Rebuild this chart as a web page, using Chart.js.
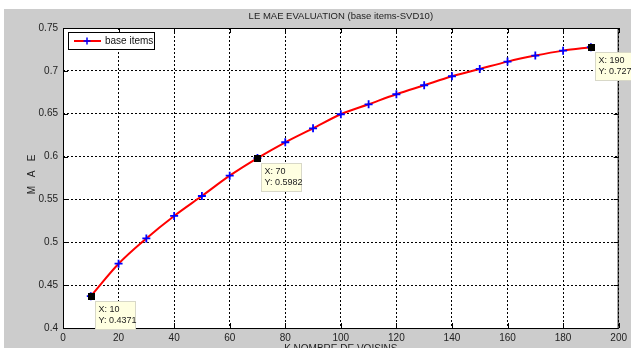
<!DOCTYPE html>
<html>
<head>
<meta charset="utf-8">
<script src="https://cdn.jsdelivr.net/npm/chart.js@4.4.1/dist/chart.umd.min.js"></script>
<style>
  html, body { margin: 0; padding: 0; background: #fff; }
  #wrap { width: 631px; height: 348px; position: relative; }
</style>
</head>
<body>
<div id="wrap"><canvas id="mae-chart" width="631" height="348"></canvas></div>
<script>
// Data
const neighbours = [10, 20, 30, 40, 50, 60, 70, 80, 90, 100, 110, 120, 130, 140, 150, 160, 170, 180, 190];
const maeValues = [0.4371, 0.475, 0.5045, 0.5307, 0.554, 0.5777, 0.5982, 0.6167, 0.633, 0.6494,
                   0.661, 0.6727, 0.6832, 0.6937, 0.7022, 0.7108, 0.7178, 0.7236, 0.7276];
const xTicks = [0, 20, 40, 60, 80, 100, 120, 140, 160, 180, 200];
const yTicks = [0.4, 0.45, 0.5, 0.55, 0.6, 0.65, 0.7, 0.75];
const dataTips = [10, 70, 190]; // points with matlab-style data cursors

const chartTitle = "LE MAE EVALUATION (base items-SVD10)";
const xTitle = "K NOMBRE DE VOISINS";
const yTitle = ["M", "A", "E"];
const seriesName = "base items";

const FONT = "Arial, 'Liberation Sans', sans-serif";

// Figure background + texts + frame + legend + data tips
const matlabLook = {
  id: "matlabLook",
  beforeDraw(chart) {
    const ctx = chart.ctx;
    ctx.save();
    ctx.fillStyle = "#ffffff";
    ctx.fillRect(0, 0, chart.width, chart.height);
    ctx.fillStyle = "#cccccc";
    ctx.fillRect(4, 9, chart.width - 4, chart.height - 9);
    const a = chart.chartArea;
    ctx.fillStyle = "#ffffff";
    ctx.fillRect(a.left, a.top, a.right - a.left, a.bottom - a.top);
    ctx.restore();
  },
  afterDatasetsDraw(chart) {
    const ctx = chart.ctx;
    const a = chart.chartArea;
    const xs = chart.scales.x, ys = chart.scales.y;
    ctx.save();

    // frame
    ctx.strokeStyle = "#000";
    ctx.lineWidth = 1;
    ctx.strokeRect(a.left + 0.5, a.top + 0.5, a.right - a.left - 1, a.bottom - a.top);

    // inward tick marks
    ctx.beginPath();
    xTicks.forEach((t) => {
      const px = Math.round(xs.getPixelForValue(t)) + 0.5;
      ctx.moveTo(px, a.bottom); ctx.lineTo(px, a.bottom - 5);
      ctx.moveTo(px, a.top); ctx.lineTo(px, a.top + 5);
    });
    yTicks.forEach((t) => {
      const py = Math.round(ys.getPixelForValue(t)) + 0.5;
      ctx.moveTo(a.left, py); ctx.lineTo(a.left + 5, py);
      ctx.moveTo(a.right, py); ctx.lineTo(a.right - 5, py);
    });
    ctx.stroke();

    // titles
    ctx.fillStyle = "#222";
    ctx.font = "9.5px " + FONT;
    ctx.textAlign = "center";
    ctx.textBaseline = "middle";
    ctx.fillText(chartTitle, (a.left + a.right) / 2, 16);
    ctx.font = "10px " + FONT;
    ctx.textBaseline = "top";
    ctx.fillText(xTitle, (a.left + a.right) / 2, 344);
    ctx.save();
    ctx.translate(32, (a.top + a.bottom) / 2 - 4);
    ctx.rotate(-Math.PI / 2);
    ctx.textBaseline = "middle";
    ctx.font = "10px " + FONT;
    yTitle.forEach((ch, i) => ctx.fillText(ch, (i - 1) * 16, 0));
    ctx.restore();

    // legend
    ctx.fillStyle = "#fff";
    ctx.fillRect(68.5, 32.5, 86, 17);
    ctx.strokeStyle = "#000";
    ctx.strokeRect(68.5, 32.5, 86, 17);
    ctx.strokeStyle = "#ff0000";
    ctx.lineWidth = 2;
    ctx.beginPath();
    ctx.moveTo(74, 41); ctx.lineTo(101, 41);
    ctx.stroke();
    ctx.strokeStyle = "#0000ff";
    ctx.lineWidth = 1.5;
    ctx.beginPath();
    ctx.moveTo(83.5, 41); ctx.lineTo(90.5, 41);
    ctx.moveTo(87, 37.5); ctx.lineTo(87, 44.5);
    ctx.stroke();
    ctx.fillStyle = "#111";
    ctx.font = "10px " + FONT;
    ctx.textAlign = "left";
    ctx.textBaseline = "middle";
    ctx.fillText(seriesName, 105, 41.5);

    // data tips
    dataTips.forEach((k) => {
      const i = neighbours.indexOf(k);
      const px = xs.getPixelForValue(neighbours[i]);
      const py = ys.getPixelForValue(maeValues[i]);
      ctx.fillStyle = "#000";
      ctx.fillRect(Math.round(px) - 3, Math.round(py) - 3, 7, 7);
      const bx = Math.round(px) + 4.5, by = Math.round(py) + 5.5;
      ctx.fillStyle = "#ffffe1";
      ctx.fillRect(bx, by, 40, 28);
      ctx.strokeStyle = "#d8d8c8";
      ctx.lineWidth = 1;
      ctx.strokeRect(bx, by, 40, 28);
      ctx.fillStyle = "#222";
      ctx.font = "9px " + FONT;
      ctx.textAlign = "left";
      ctx.textBaseline = "middle";
      ctx.fillText("X: " + neighbours[i], bx + 3, by + 8.5);
      ctx.fillText("Y: " + maeValues[i], bx + 3, by + 19.5);
    });
    ctx.restore();
  }
};

const ctx = document.getElementById("mae-chart").getContext("2d");
new Chart(ctx, {
  type: "line",
  data: {
    datasets: [
      {
        label: seriesName,
        data: neighbours.map((n, i) => ({ x: n, y: maeValues[i] })),
        borderColor: "#ff0000",
        borderWidth: 2,
        cubicInterpolationMode: "monotone",
        pointStyle: "cross",
        pointRadius: 4,
        pointBorderColor: "#0000ff",
        pointBorderWidth: 1.8,
        fill: false,
      },
    ],
  },
  options: {
    responsive: false,
    animation: false,
    layout: { padding: { left: 4, top: 28, right: 10, bottom: 0 } },
    plugins: { legend: { display: false }, tooltip: { enabled: false } },
    scales: {
      x: {
        type: "linear",
        min: 0,
        max: 200,
        afterFit: (s) => { s.height = 20; },
        afterBuildTicks: (s) => { s.ticks = xTicks.map((v) => ({ value: v })); },
        ticks: { color: "#222", padding: 4, maxRotation: 0, font: { family: FONT, size: 10 } },
        grid: { color: "#000", lineWidth: 1, drawTicks: false },
        border: { display: false, dash: [2, 2] },
      },
      y: {
        type: "linear",
        min: 0.4,
        max: 0.75,
        afterFit: (s) => { s.width = 59; },
        afterBuildTicks: (s) => { s.ticks = yTicks.map((v) => ({ value: v })); },
        ticks: {
          color: "#222",
          padding: 5,
          font: { family: FONT, size: 10 },
          callback: (v) => String(Number(v.toFixed(2))),
        },
        grid: { color: "#000", lineWidth: 1, drawTicks: false },
        border: { display: false, dash: [2, 2] },
      },
    },
  },
  plugins: [matlabLook],
});
</script>
</body>
</html>
